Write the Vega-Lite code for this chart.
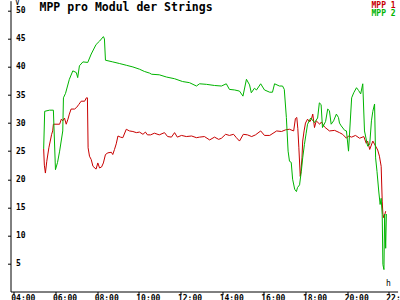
{
  "width": 400,
  "height": 300,
  "autosize": {"type": "fit", "contains": "padding"},
  "padding": {"left": 6.5, "top": -1.3, "right": -9.6, "bottom": -2.5},
  "config": {
    "view": {"stroke": "transparent"},
    "legend": {"layout": {"margin": 0, "top-right": {"direction": "vertical", "margin": 0, "anchor": "start"}}}
  },
  "title": {
    "text": "MPP pro Modul der Strings",
    "anchor": "start",
    "frame": "group",
    "orient": "top",
    "offset": 0,
    "dx": 29,
    "dy": 23.7,
    "baseline": "alphabetic",
    "font": "DejaVu Sans Mono",
    "fontSize": 11.5,
    "fontWeight": "bold",
    "color": "black"
  },
  "data": {
    "values": [
      {"t": "2024-06-01T05:26", "s": "MPP 1", "v": 25.4},
      {"t": "2024-06-01T05:28", "s": "MPP 1", "v": 22.5},
      {"t": "2024-06-01T05:31", "s": "MPP 1", "v": 21.1},
      {"t": "2024-06-01T05:35", "s": "MPP 1", "v": 23.2},
      {"t": "2024-06-01T05:41", "s": "MPP 1", "v": 25.6},
      {"t": "2024-06-01T05:45", "s": "MPP 1", "v": 26.8},
      {"t": "2024-06-01T05:49", "s": "MPP 1", "v": 28.0},
      {"t": "2024-06-01T05:52", "s": "MPP 1", "v": 28.6},
      {"t": "2024-06-01T05:54", "s": "MPP 1", "v": 29.8},
      {"t": "2024-06-01T06:12", "s": "MPP 1", "v": 29.8},
      {"t": "2024-06-01T06:17", "s": "MPP 1", "v": 30.7},
      {"t": "2024-06-01T06:21", "s": "MPP 1", "v": 30.4},
      {"t": "2024-06-01T06:26", "s": "MPP 1", "v": 30.9},
      {"t": "2024-06-01T06:31", "s": "MPP 1", "v": 29.8},
      {"t": "2024-06-01T06:36", "s": "MPP 1", "v": 30.7},
      {"t": "2024-06-01T06:40", "s": "MPP 1", "v": 31.6},
      {"t": "2024-06-01T06:45", "s": "MPP 1", "v": 32.5},
      {"t": "2024-06-01T06:55", "s": "MPP 1", "v": 32.5},
      {"t": "2024-06-01T07:01", "s": "MPP 1", "v": 32.8},
      {"t": "2024-06-01T07:07", "s": "MPP 1", "v": 33.3},
      {"t": "2024-06-01T07:14", "s": "MPP 1", "v": 33.9},
      {"t": "2024-06-01T07:24", "s": "MPP 1", "v": 33.9},
      {"t": "2024-06-01T07:29", "s": "MPP 1", "v": 34.5},
      {"t": "2024-06-01T07:32", "s": "MPP 1", "v": 34.5},
      {"t": "2024-06-01T07:34", "s": "MPP 1", "v": 25.6},
      {"t": "2024-06-01T07:38", "s": "MPP 1", "v": 24.1},
      {"t": "2024-06-01T07:43", "s": "MPP 1", "v": 23.5},
      {"t": "2024-06-01T07:48", "s": "MPP 1", "v": 22.3},
      {"t": "2024-06-01T07:57", "s": "MPP 1", "v": 21.8},
      {"t": "2024-06-01T08:02", "s": "MPP 1", "v": 22.9},
      {"t": "2024-06-01T08:07", "s": "MPP 1", "v": 22.0},
      {"t": "2024-06-01T08:13", "s": "MPP 1", "v": 22.2},
      {"t": "2024-06-01T08:18", "s": "MPP 1", "v": 22.9},
      {"t": "2024-06-01T08:24", "s": "MPP 1", "v": 24.4},
      {"t": "2024-06-01T08:31", "s": "MPP 1", "v": 24.7},
      {"t": "2024-06-01T08:41", "s": "MPP 1", "v": 24.8},
      {"t": "2024-06-01T08:45", "s": "MPP 1", "v": 24.4},
      {"t": "2024-06-01T08:50", "s": "MPP 1", "v": 25.3},
      {"t": "2024-06-01T08:55", "s": "MPP 1", "v": 26.3},
      {"t": "2024-06-01T09:00", "s": "MPP 1", "v": 27.7},
      {"t": "2024-06-01T09:07", "s": "MPP 1", "v": 27.5},
      {"t": "2024-06-01T09:14", "s": "MPP 1", "v": 27.4},
      {"t": "2024-06-01T09:24", "s": "MPP 1", "v": 28.9},
      {"t": "2024-06-01T09:33", "s": "MPP 1", "v": 28.6},
      {"t": "2024-06-01T09:43", "s": "MPP 1", "v": 28.5},
      {"t": "2024-06-01T09:53", "s": "MPP 1", "v": 28.3},
      {"t": "2024-06-01T10:02", "s": "MPP 1", "v": 28.4},
      {"t": "2024-06-01T10:12", "s": "MPP 1", "v": 28.0},
      {"t": "2024-06-01T10:19", "s": "MPP 1", "v": 28.4},
      {"t": "2024-06-01T10:25", "s": "MPP 1", "v": 27.9},
      {"t": "2024-06-01T10:34", "s": "MPP 1", "v": 27.9},
      {"t": "2024-06-01T10:45", "s": "MPP 1", "v": 28.2},
      {"t": "2024-06-01T10:59", "s": "MPP 1", "v": 27.9},
      {"t": "2024-06-01T11:14", "s": "MPP 1", "v": 28.3},
      {"t": "2024-06-01T11:23", "s": "MPP 1", "v": 27.6},
      {"t": "2024-06-01T11:34", "s": "MPP 1", "v": 27.5},
      {"t": "2024-06-01T11:43", "s": "MPP 1", "v": 28.3},
      {"t": "2024-06-01T11:51", "s": "MPP 1", "v": 27.5},
      {"t": "2024-06-01T12:03", "s": "MPP 1", "v": 27.8},
      {"t": "2024-06-01T12:17", "s": "MPP 1", "v": 27.6},
      {"t": "2024-06-01T12:32", "s": "MPP 1", "v": 27.7},
      {"t": "2024-06-01T12:46", "s": "MPP 1", "v": 27.4},
      {"t": "2024-06-01T12:55", "s": "MPP 1", "v": 27.5},
      {"t": "2024-06-01T13:09", "s": "MPP 1", "v": 27.6},
      {"t": "2024-06-01T13:24", "s": "MPP 1", "v": 27.0},
      {"t": "2024-06-01T13:38", "s": "MPP 1", "v": 27.5},
      {"t": "2024-06-01T13:50", "s": "MPP 1", "v": 27.1},
      {"t": "2024-06-01T13:58", "s": "MPP 1", "v": 27.3},
      {"t": "2024-06-01T14:10", "s": "MPP 1", "v": 28.0},
      {"t": "2024-06-01T14:21", "s": "MPP 1", "v": 27.8},
      {"t": "2024-06-01T14:33", "s": "MPP 1", "v": 28.0},
      {"t": "2024-06-01T14:41", "s": "MPP 1", "v": 27.4},
      {"t": "2024-06-01T14:50", "s": "MPP 1", "v": 26.8},
      {"t": "2024-06-01T15:01", "s": "MPP 1", "v": 28.0},
      {"t": "2024-06-01T15:13", "s": "MPP 1", "v": 27.9},
      {"t": "2024-06-01T15:25", "s": "MPP 1", "v": 27.6},
      {"t": "2024-06-01T15:36", "s": "MPP 1", "v": 27.9},
      {"t": "2024-06-01T15:51", "s": "MPP 1", "v": 28.6},
      {"t": "2024-06-01T16:02", "s": "MPP 1", "v": 27.8},
      {"t": "2024-06-01T16:17", "s": "MPP 1", "v": 27.8},
      {"t": "2024-06-01T16:37", "s": "MPP 1", "v": 28.6},
      {"t": "2024-06-01T16:51", "s": "MPP 1", "v": 28.5},
      {"t": "2024-06-01T17:03", "s": "MPP 1", "v": 28.8},
      {"t": "2024-06-01T17:14", "s": "MPP 1", "v": 28.9},
      {"t": "2024-06-01T17:26", "s": "MPP 1", "v": 28.6},
      {"t": "2024-06-01T17:31", "s": "MPP 1", "v": 30.8},
      {"t": "2024-06-01T17:35", "s": "MPP 1", "v": 31.0},
      {"t": "2024-06-01T17:38", "s": "MPP 1", "v": 29.0},
      {"t": "2024-06-01T17:41", "s": "MPP 1", "v": 25.6},
      {"t": "2024-06-01T17:45", "s": "MPP 1", "v": 20.5},
      {"t": "2024-06-01T17:47", "s": "MPP 1", "v": 21.5},
      {"t": "2024-06-01T17:50", "s": "MPP 1", "v": 23.8},
      {"t": "2024-06-01T17:52", "s": "MPP 1", "v": 26.8},
      {"t": "2024-06-01T17:56", "s": "MPP 1", "v": 28.6},
      {"t": "2024-06-01T18:00", "s": "MPP 1", "v": 30.0},
      {"t": "2024-06-01T18:06", "s": "MPP 1", "v": 30.7},
      {"t": "2024-06-01T18:12", "s": "MPP 1", "v": 30.2},
      {"t": "2024-06-01T18:17", "s": "MPP 1", "v": 30.7},
      {"t": "2024-06-01T18:21", "s": "MPP 1", "v": 31.6},
      {"t": "2024-06-01T18:26", "s": "MPP 1", "v": 29.2},
      {"t": "2024-06-01T18:31", "s": "MPP 1", "v": 30.4},
      {"t": "2024-06-01T18:41", "s": "MPP 1", "v": 29.8},
      {"t": "2024-06-01T18:46", "s": "MPP 1", "v": 30.2},
      {"t": "2024-06-01T18:55", "s": "MPP 1", "v": 29.3},
      {"t": "2024-06-01T19:09", "s": "MPP 1", "v": 28.6},
      {"t": "2024-06-01T19:24", "s": "MPP 1", "v": 28.7},
      {"t": "2024-06-01T19:38", "s": "MPP 1", "v": 28.3},
      {"t": "2024-06-01T19:47", "s": "MPP 1", "v": 28.0},
      {"t": "2024-06-01T19:58", "s": "MPP 1", "v": 27.3},
      {"t": "2024-06-01T20:04", "s": "MPP 1", "v": 27.7},
      {"t": "2024-06-01T20:13", "s": "MPP 1", "v": 27.5},
      {"t": "2024-06-01T20:24", "s": "MPP 1", "v": 27.8},
      {"t": "2024-06-01T20:36", "s": "MPP 1", "v": 27.3},
      {"t": "2024-06-01T20:48", "s": "MPP 1", "v": 27.6},
      {"t": "2024-06-01T20:55", "s": "MPP 1", "v": 26.4},
      {"t": "2024-06-01T20:59", "s": "MPP 1", "v": 26.8},
      {"t": "2024-06-01T21:05", "s": "MPP 1", "v": 25.3},
      {"t": "2024-06-01T21:14", "s": "MPP 1", "v": 26.8},
      {"t": "2024-06-01T21:22", "s": "MPP 1", "v": 25.9},
      {"t": "2024-06-01T21:28", "s": "MPP 1", "v": 25.2},
      {"t": "2024-06-01T21:33", "s": "MPP 1", "v": 24.1},
      {"t": "2024-06-01T21:38", "s": "MPP 1", "v": 22.3},
      {"t": "2024-06-01T21:41", "s": "MPP 1", "v": 16.1},
      {"t": "2024-06-01T21:43", "s": "MPP 1", "v": 13.8},
      {"t": "2024-06-01T21:46", "s": "MPP 1", "v": 13.1},
      {"t": "2024-06-01T21:51", "s": "MPP 1", "v": 14.3},
      {"t": "2024-06-01T05:26", "s": "MPP 2", "v": 25.4},
      {"t": "2024-06-01T05:29", "s": "MPP 2", "v": 32.1},
      {"t": "2024-06-01T05:43", "s": "MPP 2", "v": 32.3},
      {"t": "2024-06-01T05:54", "s": "MPP 2", "v": 32.3},
      {"t": "2024-06-01T06:00", "s": "MPP 2", "v": 21.7},
      {"t": "2024-06-01T06:06", "s": "MPP 2", "v": 23.0},
      {"t": "2024-06-01T06:12", "s": "MPP 2", "v": 25.0},
      {"t": "2024-06-01T06:21", "s": "MPP 2", "v": 28.6},
      {"t": "2024-06-01T06:23", "s": "MPP 2", "v": 34.5},
      {"t": "2024-06-01T06:29", "s": "MPP 2", "v": 35.3},
      {"t": "2024-06-01T06:40", "s": "MPP 2", "v": 37.8},
      {"t": "2024-06-01T06:50", "s": "MPP 2", "v": 39.3},
      {"t": "2024-06-01T07:00", "s": "MPP 2", "v": 39.0},
      {"t": "2024-06-01T07:04", "s": "MPP 2", "v": 38.1},
      {"t": "2024-06-01T07:09", "s": "MPP 2", "v": 40.2},
      {"t": "2024-06-01T07:19", "s": "MPP 2", "v": 40.9},
      {"t": "2024-06-01T07:33", "s": "MPP 2", "v": 40.8},
      {"t": "2024-06-01T07:43", "s": "MPP 2", "v": 42.3},
      {"t": "2024-06-01T07:57", "s": "MPP 2", "v": 44.0},
      {"t": "2024-06-01T08:07", "s": "MPP 2", "v": 44.6},
      {"t": "2024-06-01T08:18", "s": "MPP 2", "v": 45.4},
      {"t": "2024-06-01T08:21", "s": "MPP 2", "v": 45.0},
      {"t": "2024-06-01T08:24", "s": "MPP 2", "v": 41.2},
      {"t": "2024-06-01T08:45", "s": "MPP 2", "v": 40.9},
      {"t": "2024-06-01T09:05", "s": "MPP 2", "v": 40.6},
      {"t": "2024-06-01T09:24", "s": "MPP 2", "v": 40.3},
      {"t": "2024-06-01T09:43", "s": "MPP 2", "v": 40.0},
      {"t": "2024-06-01T10:02", "s": "MPP 2", "v": 39.6},
      {"t": "2024-06-01T10:16", "s": "MPP 2", "v": 39.2},
      {"t": "2024-06-01T10:31", "s": "MPP 2", "v": 38.9},
      {"t": "2024-06-01T10:37", "s": "MPP 2", "v": 38.7},
      {"t": "2024-06-01T10:59", "s": "MPP 2", "v": 38.6},
      {"t": "2024-06-01T11:20", "s": "MPP 2", "v": 38.2},
      {"t": "2024-06-01T11:43", "s": "MPP 2", "v": 37.9},
      {"t": "2024-06-01T12:06", "s": "MPP 2", "v": 37.4},
      {"t": "2024-06-01T12:26", "s": "MPP 2", "v": 37.2},
      {"t": "2024-06-01T12:46", "s": "MPP 2", "v": 36.6},
      {"t": "2024-06-01T12:55", "s": "MPP 2", "v": 37.0},
      {"t": "2024-06-01T13:15", "s": "MPP 2", "v": 36.9},
      {"t": "2024-06-01T13:38", "s": "MPP 2", "v": 36.7},
      {"t": "2024-06-01T13:58", "s": "MPP 2", "v": 36.6},
      {"t": "2024-06-01T14:12", "s": "MPP 2", "v": 37.0},
      {"t": "2024-06-01T14:21", "s": "MPP 2", "v": 36.0},
      {"t": "2024-06-01T14:36", "s": "MPP 2", "v": 35.9},
      {"t": "2024-06-01T14:50", "s": "MPP 2", "v": 35.7},
      {"t": "2024-06-01T15:00", "s": "MPP 2", "v": 34.8},
      {"t": "2024-06-01T15:10", "s": "MPP 2", "v": 37.8},
      {"t": "2024-06-01T15:19", "s": "MPP 2", "v": 36.8},
      {"t": "2024-06-01T15:24", "s": "MPP 2", "v": 35.4},
      {"t": "2024-06-01T15:33", "s": "MPP 2", "v": 36.2},
      {"t": "2024-06-01T15:39", "s": "MPP 2", "v": 35.9},
      {"t": "2024-06-01T15:51", "s": "MPP 2", "v": 37.0},
      {"t": "2024-06-01T16:02", "s": "MPP 2", "v": 35.9},
      {"t": "2024-06-01T16:17", "s": "MPP 2", "v": 35.5},
      {"t": "2024-06-01T16:25", "s": "MPP 2", "v": 35.5},
      {"t": "2024-06-01T16:31", "s": "MPP 2", "v": 37.0},
      {"t": "2024-06-01T16:45", "s": "MPP 2", "v": 36.6},
      {"t": "2024-06-01T16:54", "s": "MPP 2", "v": 36.6},
      {"t": "2024-06-01T16:59", "s": "MPP 2", "v": 36.0},
      {"t": "2024-06-01T17:05", "s": "MPP 2", "v": 31.0},
      {"t": "2024-06-01T17:10", "s": "MPP 2", "v": 25.0},
      {"t": "2024-06-01T17:14", "s": "MPP 2", "v": 23.2},
      {"t": "2024-06-01T17:19", "s": "MPP 2", "v": 23.0},
      {"t": "2024-06-01T17:23", "s": "MPP 2", "v": 20.0},
      {"t": "2024-06-01T17:29", "s": "MPP 2", "v": 18.2},
      {"t": "2024-06-01T17:34", "s": "MPP 2", "v": 17.8},
      {"t": "2024-06-01T17:37", "s": "MPP 2", "v": 18.5},
      {"t": "2024-06-01T17:43", "s": "MPP 2", "v": 19.0},
      {"t": "2024-06-01T17:48", "s": "MPP 2", "v": 21.4},
      {"t": "2024-06-01T17:52", "s": "MPP 2", "v": 23.8},
      {"t": "2024-06-01T17:57", "s": "MPP 2", "v": 26.2},
      {"t": "2024-06-01T18:02", "s": "MPP 2", "v": 28.2},
      {"t": "2024-06-01T18:06", "s": "MPP 2", "v": 29.8},
      {"t": "2024-06-01T18:15", "s": "MPP 2", "v": 30.9},
      {"t": "2024-06-01T18:26", "s": "MPP 2", "v": 30.1},
      {"t": "2024-06-01T18:35", "s": "MPP 2", "v": 30.9},
      {"t": "2024-06-01T18:40", "s": "MPP 2", "v": 33.6},
      {"t": "2024-06-01T18:45", "s": "MPP 2", "v": 33.3},
      {"t": "2024-06-01T18:49", "s": "MPP 2", "v": 29.2},
      {"t": "2024-06-01T18:58", "s": "MPP 2", "v": 30.3},
      {"t": "2024-06-01T19:04", "s": "MPP 2", "v": 32.5},
      {"t": "2024-06-01T19:09", "s": "MPP 2", "v": 32.2},
      {"t": "2024-06-01T19:14", "s": "MPP 2", "v": 29.8},
      {"t": "2024-06-01T19:21", "s": "MPP 2", "v": 30.4},
      {"t": "2024-06-01T19:29", "s": "MPP 2", "v": 31.6},
      {"t": "2024-06-01T19:35", "s": "MPP 2", "v": 31.0},
      {"t": "2024-06-01T19:38", "s": "MPP 2", "v": 30.0},
      {"t": "2024-06-01T19:43", "s": "MPP 2", "v": 29.5},
      {"t": "2024-06-01T19:53", "s": "MPP 2", "v": 28.7},
      {"t": "2024-06-01T19:58", "s": "MPP 2", "v": 28.6},
      {"t": "2024-06-01T20:04", "s": "MPP 2", "v": 25.0},
      {"t": "2024-06-01T20:13", "s": "MPP 2", "v": 34.5},
      {"t": "2024-06-01T20:19", "s": "MPP 2", "v": 35.4},
      {"t": "2024-06-01T20:27", "s": "MPP 2", "v": 36.3},
      {"t": "2024-06-01T20:33", "s": "MPP 2", "v": 35.8},
      {"t": "2024-06-01T20:39", "s": "MPP 2", "v": 35.2},
      {"t": "2024-06-01T20:45", "s": "MPP 2", "v": 37.0},
      {"t": "2024-06-01T20:50", "s": "MPP 2", "v": 28.6},
      {"t": "2024-06-01T20:59", "s": "MPP 2", "v": 25.9},
      {"t": "2024-06-01T21:05", "s": "MPP 2", "v": 26.2},
      {"t": "2024-06-01T21:10", "s": "MPP 2", "v": 30.4},
      {"t": "2024-06-01T21:14", "s": "MPP 2", "v": 32.1},
      {"t": "2024-06-01T21:19", "s": "MPP 2", "v": 33.4},
      {"t": "2024-06-01T21:22", "s": "MPP 2", "v": 23.8},
      {"t": "2024-06-01T21:26", "s": "MPP 2", "v": 21.4},
      {"t": "2024-06-01T21:31", "s": "MPP 2", "v": 17.9},
      {"t": "2024-06-01T21:35", "s": "MPP 2", "v": 15.5},
      {"t": "2024-06-01T21:38", "s": "MPP 2", "v": 16.6},
      {"t": "2024-06-01T21:41", "s": "MPP 2", "v": 13.7},
      {"t": "2024-06-01T21:43", "s": "MPP 2", "v": 4.8},
      {"t": "2024-06-01T21:46", "s": "MPP 2", "v": 3.9},
      {"t": "2024-06-01T21:48", "s": "MPP 2", "v": 13.8},
      {"t": "2024-06-01T21:51", "s": "MPP 2", "v": 7.7},
      {"t": "2024-06-01T21:53", "s": "MPP 2", "v": 13.8}
    ]
  },
  "encoding": {
    "x": {
      "field": "t",
      "type": "temporal",
      "scale": {
        "domain": [
          {"year": 2024, "month": 6, "date": 1, "hours": 3, "minutes": 50, "seconds": 30},
          {"year": 2024, "month": 6, "date": 1, "hours": 22, "minutes": 25, "seconds": 20}
        ]
      },
      "axis": {
        "title": "h",
        "titleX": 375,
        "titleY": -6,
        "titleAlign": "left",
        "titleBaseline": "alphabetic",
        "titleFont": "DejaVu Sans Mono",
        "titleFontSize": 8,
        "titleFontWeight": "normal",
        "titleColor": "black",
        "format": "%H:%M",
        "values": [
          {"year": 2024, "month": 6, "date": 1, "hours": 4},
          {"year": 2024, "month": 6, "date": 1, "hours": 6},
          {"year": 2024, "month": 6, "date": 1, "hours": 8},
          {"year": 2024, "month": 6, "date": 1, "hours": 10},
          {"year": 2024, "month": 6, "date": 1, "hours": 12},
          {"year": 2024, "month": 6, "date": 1, "hours": 14},
          {"year": 2024, "month": 6, "date": 1, "hours": 16},
          {"year": 2024, "month": 6, "date": 1, "hours": 18},
          {"year": 2024, "month": 6, "date": 1, "hours": 20},
          {"year": 2024, "month": 6, "date": 1, "hours": 22}
        ],
        "labelAlign": "left",
        "labelOffset": -3,
        "labelBaseline": "alphabetic",
        "labelPadding": 5.5,
        "labelFont": "DejaVu Sans Mono",
        "labelFontSize": 8,
        "labelFontWeight": "bold",
        "labelColor": "black",
        "labelFlush": false,
        "labelOverlap": false,
        "labelBound": false,
        "tickSize": 3,
        "tickColor": "black",
        "domainColor": "black",
        "grid": false
      }
    },
    "y": {
      "field": "v",
      "type": "quantitative",
      "scale": {"domain": [0, 51.8], "nice": false, "zero": true},
      "axis": {
        "title": "V",
        "titleAngle": 0,
        "titleX": 4,
        "titleY": 4,
        "titleAlign": "left",
        "titleBaseline": "alphabetic",
        "titleFont": "DejaVu Sans Mono",
        "titleFontSize": 8,
        "titleFontWeight": "normal",
        "titleColor": "black",
        "values": [5, 10, 15, 20, 25, 30, 35, 40, 45, 50],
        "labelAlign": "left",
        "labelPadding": -8,
        "labelBaseline": "middle",
        "labelFont": "DejaVu Sans Mono",
        "labelFontSize": 8,
        "labelFontWeight": "bold",
        "labelColor": "black",
        "labelFlush": false,
        "labelOverlap": false,
        "labelBound": false,
        "tickSize": 3,
        "tickColor": "black",
        "domainColor": "black",
        "grid": false
      }
    }
  },
  "layer": [
    {
      "transform": [{"filter": "datum.s == 'MPP 1'"}],
      "mark": {"type": "line", "strokeWidth": 1},
      "encoding": {
        "color": {
          "field": "s",
          "type": "nominal",
          "scale": {"domain": ["MPP 1"], "range": ["#c80000"]},
          "legend": {
            "title": null,
            "orient": "top-right",
            "offset": 1,
            "padding": 0,
            "rowPadding": 0,
            "symbolSize": 0,
            "symbolOpacity": 0,
            "labelOffset": 0,
            "labelFont": "DejaVu Sans Mono",
            "labelFontSize": 8,
            "labelFontWeight": "bold",
            "labelColor": "#c80000"
          }
        }
      }
    },
    {
      "transform": [{"filter": "datum.s == 'MPP 2'"}],
      "mark": {"type": "line", "strokeWidth": 1},
      "encoding": {
        "color": {
          "field": "s",
          "type": "nominal",
          "scale": {"domain": ["MPP 2"], "range": ["#00b400"]},
          "legend": {
            "title": null,
            "orient": "top-right",
            "offset": 1,
            "padding": 0,
            "rowPadding": 0,
            "symbolSize": 0,
            "symbolOpacity": 0,
            "labelOffset": 0,
            "labelFont": "DejaVu Sans Mono",
            "labelFontSize": 8,
            "labelFontWeight": "bold",
            "labelColor": "#00b400"
          }
        }
      }
    }
  ],
  "resolve": {"scale": {"color": "independent"}, "legend": {"color": "independent"}}
}
